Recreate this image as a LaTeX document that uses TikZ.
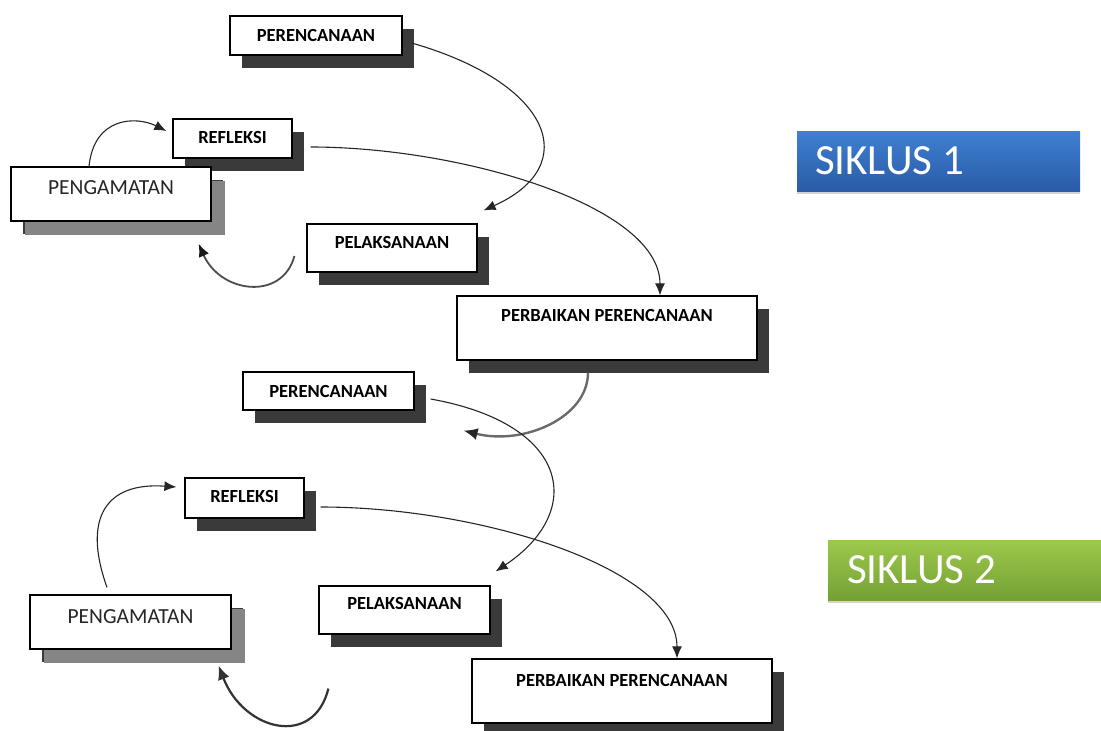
\documentclass[tikz,border=0pt]{standalone}
\usepackage{fontspec}
\setmainfont{Carlito}
\usetikzlibrary{arrows.meta,shadows,calc}
\definecolor{shdark}{HTML}{3A3A3A}
\definecolor{shlight}{HTML}{858585}
\definecolor{sonetop}{HTML}{3F80D2}
\definecolor{sonebot}{HTML}{2A5BA6}
\definecolor{stwotop}{HTML}{9DC94C}
\definecolor{stwobot}{HTML}{74A034}
\definecolor{curvegray}{HTML}{6A6A6A}
\begin{document}
\begin{tikzpicture}[x=1pt,y=-1pt,
  box/.style={draw=black, line width=1.2pt, fill=white, rectangle, inner sep=0pt,
    general shadow={fill=shdark, shadow xshift=12pt, shadow yshift=-13pt}},
  lboxshadow/.style={general shadow={fill=shlight, shadow xshift=14pt, shadow yshift=-14pt}},
  lbl/.style={font=\fontsize{18.5}{18.5}\selectfont\bfseries, inner sep=0pt, text=black},
  lblreg/.style={font=\fontsize{21.5}{21.5}\selectfont, inner sep=0pt, text=black!85},
  conn/.style={line width=1.1pt, draw=black!85, -{Latex[length=12pt,width=10pt]}},
  thick conn/.style={line width=2.4pt, draw=curvegray, -{Latex[length=14pt,width=12pt,color=black!85]}},
  sbox/.style={rectangle, inner sep=0pt, draw=none,
    drop shadow={shadow xshift=0pt, shadow yshift=-3pt, opacity=0.35}},
  stext/.style={font=\fontsize{43}{43}\selectfont, text=white, inner sep=0pt, anchor=west}
]
\useasboundingbox (0,0) rectangle (1101,731);

% ---------- SIKLUS labels ----------
\node[sbox, top color=sonetop, bottom color=sonebot, minimum width=283pt, minimum height=60pt,
  label={[stext, xshift=18pt]west:SIKLUS 1}] (s1) at (938.5,161) {};
\node[sbox, top color=stwotop, bottom color=stwobot, minimum width=290pt, minimum height=60pt,
  label={[stext, xshift=19pt]west:SIKLUS 2}] (s2) at (973,570) {};

% ---------- Cycle 1 ----------
\node[box, minimum width=172pt, minimum height=39pt,
  label={[lbl]center:PERENCANAAN}] (p1) at (316,35.5) {};
\node[box, minimum width=119pt, minimum height=39pt,
  label={[lbl, yshift=1pt]center:REFLEKSI}] (r1) at (232.5,138.5) {};
\node[box, lboxshadow, minimum width=200pt, minimum height=54pt,
  label={[lblreg, yshift=6pt]center:PENGAMATAN}] (g1) at (111,194) {};
\node[box, minimum width=170pt, minimum height=48pt,
  label={[lbl, yshift=6pt]center:PELAKSANAAN}] (l1) at (392,248) {};
\node[box, minimum width=300pt, minimum height=64pt,
  label={[lbl, yshift=13pt]center:PERBAIKAN PERENCANAAN}] (b1) at (607,328) {};

% ---------- Cycle 2 ----------
\node[box, minimum width=171pt, minimum height=38pt,
  label={[lbl]center:PERENCANAAN}] (p2) at (328.5,391) {};
\node[box, minimum width=119pt, minimum height=40pt,
  label={[lbl, yshift=2pt]center:REFLEKSI}] (r2) at (244.5,498) {};
\node[box, lboxshadow, minimum width=201pt, minimum height=54pt,
  label={[lblreg, yshift=5pt]center:PENGAMATAN}] (g2) at (130.5,622) {};
\node[box, minimum width=171pt, minimum height=48pt,
  label={[lbl, yshift=7pt]center:PELAKSANAAN}] (l2) at (404.5,610) {};
\node[box, minimum width=300pt, minimum height=64pt,
  label={[lbl, yshift=11pt]center:PERBAIKAN PERENCANAAN}] (b2) at (622,691) {};

% ---------- connectors, cycle 1 ----------
\draw[conn] ($(p1.east)+(9,7.5)$) .. controls +(140,40) and +(100,-45) .. ($(l1.north east)+(6,-13)$);
\draw[conn] ($(r1.east)+(18,8.5)$) .. controls +(150,0) and +(0,-90) .. ($(b1.north)+(53,0)$);
\draw[conn] ($(g1.north)+(-22,0)$) .. controls +(5,-50) and +(-30,-15) .. ($(r1.west)+(-6,-7.5)$);
\draw[conn, line width=1.8pt, draw=black!70, -{Latex[length=13pt,width=11pt,color=black!90]}] ($(l1.west)+(-12,8)$) .. controls +(-12,45) and +(22,50) .. ($(g1.south east)+(-13,22)$);
\draw[thick conn] ($(b1.south)+(-19,12)$) .. controls +(0,45) and +(60,15) .. ($(p2.south east)+(49,20)$);

% ---------- connectors, cycle 2 ----------
\draw[conn] ($(p2.east)+(16,8)$) .. controls +(140,25) and +(90,-60) .. ($(l2.north east)+(5,-14)$);
\draw[conn] ($(r2.east)+(16,9)$) .. controls +(160,0) and +(0,-90) .. ($(b2.north)+(55,0)$);
\draw[conn] ($(g2.north)+(-23.5,-7)$) .. controls +(-25,-70) and +(-70,-5) .. ($(r2.west)+(-8,-11)$);
\draw[conn, line width=2.2pt, draw=black!80, -{Latex[length=14pt,width=12pt]}] ($(l2.south west)+(10,54)$) .. controls +(-15,60) and +(25,65) .. ($(g2.south east)+(-13,16)$);
\end{tikzpicture}
\end{document}
